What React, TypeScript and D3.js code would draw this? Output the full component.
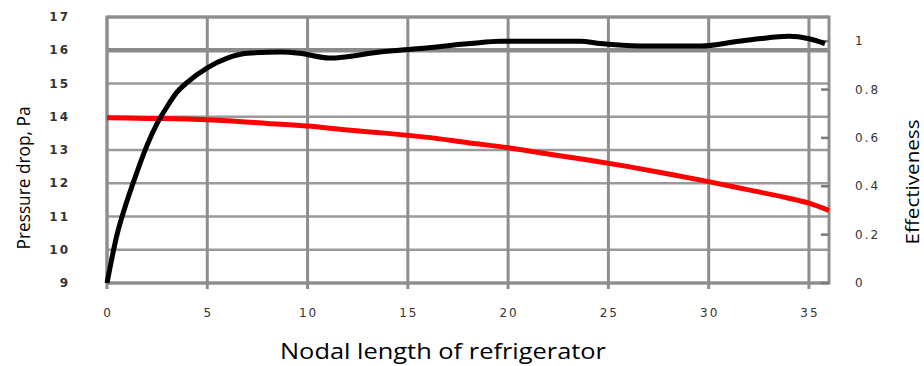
import * as d3 from "d3";
import React, { useEffect, useRef } from "react";

// nodal position along the refrigerator
const effX = [0, 0.5, 1, 1.5, 2, 2.5, 3, 3.5, 4, 5, 6, 7, 8.7, 9.6, 11.1, 13.6, 15.6, 18.1, 19.6, 23.6, 24.6, 26.6, 29.6, 31.5, 32.5, 34, 35, 35.8];
const effY = [0.0, 0.2, 0.34, 0.46, 0.57, 0.66, 0.73, 0.79, 0.83, 0.89, 0.93, 0.95, 0.955, 0.95, 0.93, 0.955, 0.97, 0.99, 1.0, 1.0, 0.99, 0.98, 0.98, 1.0, 1.01, 1.02, 1.01, 0.99];

const dropX = [0, 2, 4, 6, 8, 10, 12, 14, 16, 18, 20, 22, 24, 26, 28, 30, 32, 34, 35, 36];
const dropY = [13.97, 13.95, 13.93, 13.88, 13.8, 13.72, 13.6, 13.5, 13.38, 13.22, 13.07, 12.88, 12.7, 12.5, 12.28, 12.05, 11.8, 11.55, 11.4, 11.18];

const xTicks = [0, 5, 10, 15, 20, 25, 30, 35];
const leftTicks = [9, 10, 11, 12, 13, 14, 15, 16, 17];
const rightTicks = [0, 0.2, 0.4, 0.6, 0.8, 1];

const W = 924;
const H = 366;
const margin = { top: 17, right: 95, bottom: 83, left: 107 };

export default function App() {
  const svgRef = useRef<SVGSVGElement>(null);

  useEffect(() => {
    if (!svgRef.current) return;
    const svg = d3.select(svgRef.current);
    svg.selectAll("*").remove();

    const x = d3.scaleLinear().domain([0, 36]).range([margin.left, W - margin.right]);
    const yL = d3.scaleLinear().domain([9, 17]).range([H - margin.bottom, margin.top]);
    const yR = d3.scaleLinear().domain([0, 1.1]).range([H - margin.bottom, margin.top]);

    const grid = "#8e8e8e";
    const tickFont = "'DejaVu Sans', sans-serif";
    const titleFont = "'Open Sans', sans-serif";

    // horizontal grid
    svg.append("g")
      .selectAll("line")
      .data(leftTicks)
      .join("line")
      .attr("x1", x(0))
      .attr("x2", x(36))
      .attr("y1", (d) => yL(d))
      .attr("y2", (d) => yL(d))
      .attr("stroke", (d) => (d === 16 ? "#8a8a8a" : "#9a9a9a"))
      .attr("stroke-width", (d) => (d === 16 ? 4.5 : d === 9 || d === 17 ? 3 : 2.5));

    // vertical grid + bottom ticks
    svg.append("g")
      .selectAll("line")
      .data(xTicks)
      .join("line")
      .attr("x1", (d) => x(d))
      .attr("x2", (d) => x(d))
      .attr("y1", yL(17))
      .attr("y2", yL(9) + 6)
      .attr("stroke", grid)
      .attr("stroke-width", 3);

    // frame
    svg.append("rect")
      .attr("x", x(0))
      .attr("y", yL(17))
      .attr("width", x(36) - x(0))
      .attr("height", yL(9) - yL(17))
      .attr("fill", "none")
      .attr("stroke", grid)
      .attr("stroke-width", 3);

    // right inner ticks
    svg.append("g")
      .selectAll("line")
      .data(rightTicks)
      .join("line")
      .attr("x1", x(36) - 8)
      .attr("x2", x(36))
      .attr("y1", (d) => yR(d))
      .attr("y2", (d) => yR(d))
      .attr("stroke", "#7a7a7a")
      .attr("stroke-width", 2.5);

    // red: pressure drop
    const dropLine = d3.line<number>()
      .x((_, i) => x(dropX[i]))
      .y((d) => yL(d))
      .curve(d3.curveMonotoneX);
    svg.append("path")
      .attr("d", dropLine(dropY))
      .attr("fill", "none")
      .attr("stroke", "#ff0000")
      .attr("stroke-width", 5);

    // black: effectiveness
    const effLine = d3.line<number>()
      .x((_, i) => x(effX[i]))
      .y((d) => yR(d))
      .curve(d3.curveMonotoneX);
    svg.append("path")
      .attr("d", effLine(effY))
      .attr("fill", "none")
      .attr("stroke", "#000")
      .attr("stroke-width", 5);

    // left tick labels
    svg.append("g")
      .selectAll("text")
      .data(leftTicks)
      .join("text")
      .attr("x", 70)
      .attr("y", (d) => yL(d))
      .attr("dy", "0.35em")
      .attr("text-anchor", "end")
      .attr("fill", "#333")
      .style("font-family", tickFont)
      .style("font-size", "12px")
      .style("font-weight", "bold")
      .style("letter-spacing", "2px")
      .text((d) => d);

    // right tick labels
    svg.append("g")
      .selectAll("text")
      .data(rightTicks)
      .join("text")
      .attr("x", 855)
      .attr("y", (d) => yR(d))
      .attr("dy", "0.35em")
      .attr("fill", "#333")
      .style("font-family", tickFont)
      .style("font-size", "12px")
      .style("letter-spacing", "2px")
      .text((d) => (d === 0 || d === 1 ? String(d) : d.toFixed(1)));

    // bottom tick labels
    svg.append("g")
      .selectAll("text")
      .data(xTicks)
      .join("text")
      .attr("x", (d) => x(d) + 1)
      .attr("y", 313)
      .attr("dy", "0.35em")
      .attr("text-anchor", "middle")
      .attr("fill", "#333")
      .style("font-family", tickFont)
      .style("font-size", "12px")
      .style("letter-spacing", "2px")
      .text((d) => d);

    // axis titles
    svg.append("text")
      .attr("x", 443)
      .attr("y", 351)
      .attr("dy", "0.35em")
      .attr("text-anchor", "middle")
      .attr("fill", "#000")
      .attr("textLength", 326)
      .attr("lengthAdjust", "spacingAndGlyphs")
      .style("font-family", titleFont)
      .style("font-size", "22px")
      .text("Nodal length of refrigerator");

    svg.append("text")
      .attr("transform", `translate(23,178) rotate(-90)`)
      .attr("dy", "0.35em")
      .attr("text-anchor", "middle")
      .attr("fill", "#000")
      .attr("textLength", 143)
      .attr("lengthAdjust", "spacingAndGlyphs")
      .style("font-family", titleFont)
      .style("font-size", "19px")
      .text("Pressure drop, Pa");

    svg.append("text")
      .attr("transform", `translate(912,182) rotate(-90)`)
      .attr("dy", "0.35em")
      .attr("text-anchor", "middle")
      .attr("fill", "#000")
      .attr("textLength", 125)
      .attr("lengthAdjust", "spacingAndGlyphs")
      .style("font-family", titleFont)
      .style("font-size", "19px")
      .text("Effectiveness");
  }, []);

  return (
    <svg
      ref={svgRef}
      width={W}
      height={H}
      style={{ position: "absolute", left: 0, top: 0, background: "#fff" }}
    />
  );
}
